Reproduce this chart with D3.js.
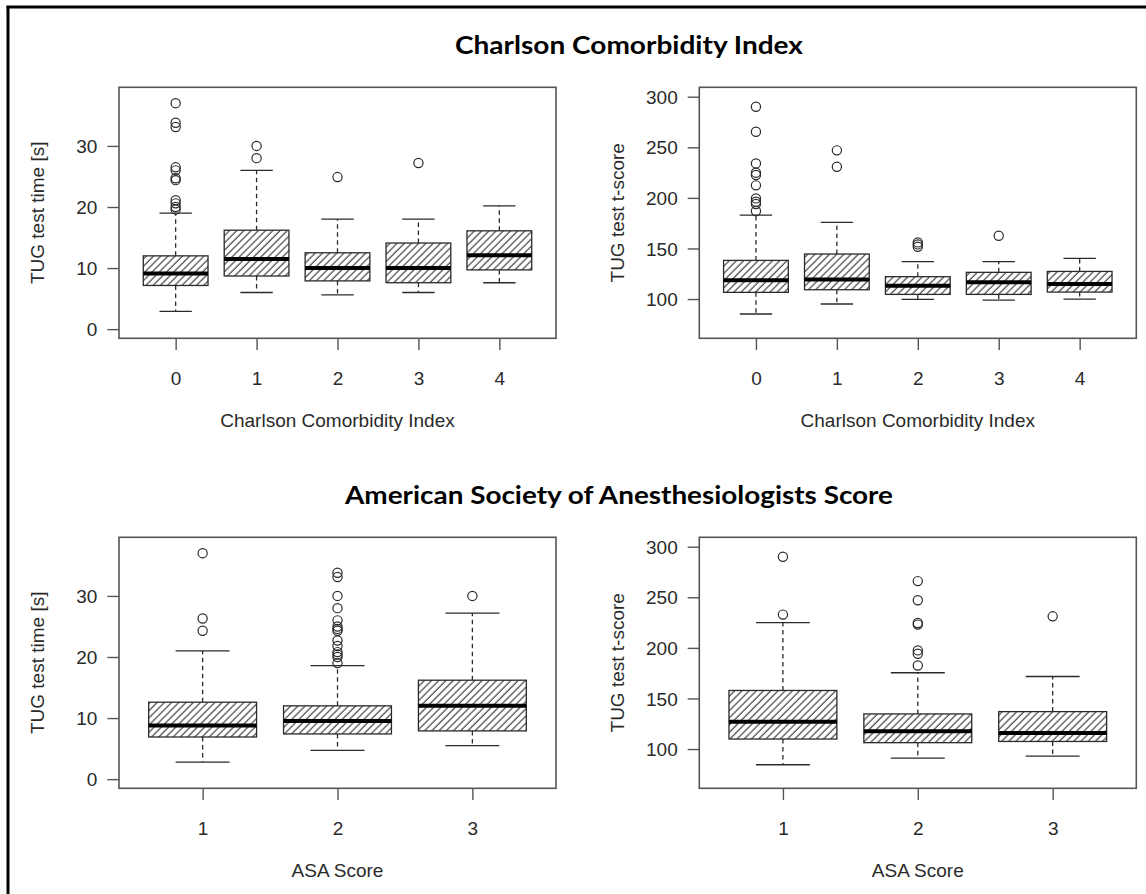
<!DOCTYPE html>
<html>
<head>
<meta charset="utf-8">
<script src="https://cdn.jsdelivr.net/npm/d3@7"></script>
<style>
  body { margin: 0; background: #fff; }
  svg { display: block; }
</style>
</head>
<body>
<svg id="chart" width="1146" height="894"></svg>
<script>

// categories
const cciCategories = ['0', '1', '2', '3', '4']
const asaCategories = ['1', '2', '3']

// tick labels
const timeTicks = [0, 10, 20, 30]
const scoreTicks = [100, 150, 200, 250, 300]

// CCI vs TUG time [s]
const cciTimeLow = [2.9, 6.0, 5.6, 6.0, 7.6]
const cciTimeQ1 = [7.15, 8.7, 7.9, 7.6, 9.7]
const cciTimeMedian = [9.1, 11.5, 10.0, 10.0, 12.1]
const cciTimeQ3 = [12.0, 16.2, 12.5, 14.1, 16.1]
const cciTimeHigh = [19.0, 26.0, 18.0, 18.0, 20.2]
const cciTimeOutliers = [
    [37.0, 33.8, 33.1, 26.5, 26.0, 24.7, 24.4, 21.1, 20.6, 20.0, 19.6],
    [30.0, 28.0],
    [24.9],
    [27.2],
    []
]

// CCI vs TUG t-score
const cciScoreLow = [85.2, 95.1, 99.7, 99.0, 100.0]
const cciScoreQ1 = [106.6, 109.2, 104.6, 104.6, 106.9]
const cciScoreMedian = [118.5, 119.4, 113.2, 116.5, 114.8]
const cciScoreQ3 = [138.2, 144.5, 122.1, 126.4, 127.3]
const cciScoreHigh = [183.0, 175.8, 136.9, 136.9, 140.2]
const cciScoreOutliers = [
    [290.1, 265.4, 234.1, 224.9, 222.6, 212.4, 199.5, 196.2, 193.9, 187.0],
    [247.0, 230.8],
    [156.0, 154.0, 151.7],
    [162.6],
    []
]

// ASA vs TUG time [s]
const asaTimeLow = [2.8, 4.7, 5.5]
const asaTimeQ1 = [6.9, 7.4, 7.9]
const asaTimeMedian = [8.8, 9.5, 12.0]
const asaTimeQ3 = [12.6, 12.0, 16.2]
const asaTimeHigh = [21.0, 18.6, 27.2]
const asaTimeOutliers = [
    [37.0, 26.3, 24.3],
    [33.8, 33.1, 30.0, 28.0, 26.0, 25.0, 24.6, 24.3, 22.7, 21.8, 20.8, 20.4, 20.0, 19.0],
    [30.0]
]

// ASA vs TUG t-score
const asaScoreLow = [84.5, 91.1, 93.1]
const asaScoreQ1 = [109.9, 106.3, 107.5]
const asaScoreMedian = [127.1, 117.5, 115.9]
const asaScoreQ3 = [157.9, 134.7, 137.0]
const asaScoreHigh = [225.0, 175.4, 171.7]
const asaScoreOutliers = [
    [290.1, 232.9],
    [266.0, 247.1, 224.6, 223.0, 197.5, 194.2, 182.6],
    [231.2]
]

const timeDomain = [-1.5, 39.6]
const scoreDomain = [61.2, 309.3]

const svg = d3.select('#chart')
const ink = '#2a2a2a'
const font = '"Liberation Sans", Arial, sans-serif'

// hatch fill
const defs = svg.append('defs')
defs.append('pattern')
    .attr('id', 'hatch')
    .attr('patternUnits', 'userSpaceOnUse')
    .attr('width', 5.1)
    .attr('height', 10)
    .attr('patternTransform', 'rotate(45)')
  .append('line')
    .attr('x1', 1).attr('y1', 0).attr('x2', 1).attr('y2', 10)
    .attr('stroke', '#333').attr('stroke-width', 1.1)

// outer frame (left and top only, the rest is cropped)
svg.append('line').attr('x1', 8).attr('y1', 6).attr('x2', 8).attr('y2', 894)
    .attr('stroke', '#000').attr('stroke-width', 3)
svg.append('line').attr('x1', 6.5).attr('y1', 7).attr('x2', 1146).attr('y2', 7)
    .attr('stroke', '#000').attr('stroke-width', 3)

function title (text, cx, baseline, width) {
    svg.append('text')
        .attr('x', cx).attr('y', baseline)
        .attr('text-anchor', 'middle')
        .attr('font-family', 'Lato, "Open Sans", sans-serif')
        .attr('font-weight', 'bold')
        .attr('font-size', 25)
        .attr('textLength', width)
        .attr('lengthAdjust', 'spacingAndGlyphs')
        .attr('fill', '#000')
        .text(text)
}

title('Charlson Comorbidity Index', 629, 54, 348)
title('American Society of Anesthesiologists Score', 619, 504, 548)

function panel (opts) {

    const { left, top, width, height, categories, domain, ticks, xlabel, ylabel } = opts
    const n = categories.length

    const g = svg.append('g').attr('transform', `translate(${left},${top})`)

    // R style: xlim c(0.5, n+0.5) expanded by 4%
    const x = d3.scaleLinear()
        .domain([0.5 - 0.04 * n, n + 0.5 + 0.04 * n])
        .range([0, width])
    const y = d3.scaleLinear().domain(domain).range([height, 0])

    const unit = x(2) - x(1)
    const bw = 0.8 * unit
    const cw = 0.4 * unit

    const boxes = categories.map((c, i) => ({
        pos: i + 1,
        low: opts.low[i], q1: opts.q1[i], med: opts.median[i], q3: opts.q3[i], high: opts.high[i],
        out: opts.outliers[i]
    }))

    const b = g.selectAll('g.box').data(boxes).enter().append('g').attr('class', 'box')

    // whiskers (dashed)
    b.append('line')
        .attr('x1', d => x(d.pos)).attr('x2', d => x(d.pos))
        .attr('y1', d => y(d.q3)).attr('y2', d => y(d.high))
        .attr('stroke', ink).attr('stroke-width', 1.3).attr('stroke-dasharray', '4.5,3.5')
    b.append('line')
        .attr('x1', d => x(d.pos)).attr('x2', d => x(d.pos))
        .attr('y1', d => y(d.q1)).attr('y2', d => y(d.low))
        .attr('stroke', ink).attr('stroke-width', 1.3).attr('stroke-dasharray', '4.5,3.5')

    // caps
    b.append('line')
        .attr('x1', d => x(d.pos) - cw / 2).attr('x2', d => x(d.pos) + cw / 2)
        .attr('y1', d => y(d.high)).attr('y2', d => y(d.high))
        .attr('stroke', ink).attr('stroke-width', 1.3)
    b.append('line')
        .attr('x1', d => x(d.pos) - cw / 2).attr('x2', d => x(d.pos) + cw / 2)
        .attr('y1', d => y(d.low)).attr('y2', d => y(d.low))
        .attr('stroke', ink).attr('stroke-width', 1.3)

    // box
    b.append('rect')
        .attr('x', d => x(d.pos) - bw / 2)
        .attr('width', bw)
        .attr('y', d => y(d.q3))
        .attr('height', d => y(d.q1) - y(d.q3))
        .attr('fill', 'url(#hatch)')
        .attr('stroke', ink).attr('stroke-width', 1.3)

    // median
    b.append('line')
        .attr('x1', d => x(d.pos) - bw / 2).attr('x2', d => x(d.pos) + bw / 2)
        .attr('y1', d => y(d.med)).attr('y2', d => y(d.med))
        .attr('stroke', '#000').attr('stroke-width', 4)

    // outliers
    b.selectAll('circle')
        .data(d => d.out.map(v => ({ pos: d.pos, v })))
        .enter().append('circle')
        .attr('cx', d => x(d.pos))
        .attr('cy', d => y(d.v))
        .attr('r', 4.6)
        .attr('fill', 'none')
        .attr('stroke', ink).attr('stroke-width', 1.2)

    // plot frame
    g.append('rect')
        .attr('width', width).attr('height', height)
        .attr('fill', 'none').attr('stroke', '#555').attr('stroke-width', 1.6)

    // axes
    const xaxis = d3.axisBottom(x)
        .tickValues(categories.map((c, i) => i + 1))
        .tickFormat((d, i) => categories[i])
        .tickSize(11.6)

    const yaxis = d3.axisLeft(y)
        .tickValues(ticks)
        .tickSize(11.6)
        .tickPadding(10)

    const xg = g.append('g').attr('transform', `translate(0,${height})`).call(xaxis)
    const yg = g.append('g').call(yaxis)

    g.selectAll('.domain').remove()
    g.selectAll('.tick line').attr('stroke', '#555').attr('stroke-width', 1.4)
    g.selectAll('.tick text')
        .attr('font-family', font).attr('font-size', 19).attr('fill', ink)
    xg.selectAll('.tick text').attr('y', 47).attr('dy', 0)
    yg.selectAll('.tick text').attr('dy', '0.35em')

    g.append('text')
        .attr('x', width / 2).attr('y', height + 89)
        .attr('text-anchor', 'middle')
        .attr('font-family', font).attr('font-size', 19).attr('fill', ink)
        .text(xlabel)

    g.append('text')
        .attr('transform', `translate(-75,${height / 2}) rotate(-90)`)
        .attr('text-anchor', 'middle')
        .attr('font-family', font).attr('font-size', 19).attr('fill', ink)
        .text(ylabel)
}

const pw = 437
const ph = 251

panel({ left: 119, top: 87.3, width: pw, height: ph, categories: cciCategories,
    domain: timeDomain, ticks: timeTicks,
    low: cciTimeLow, q1: cciTimeQ1, median: cciTimeMedian, q3: cciTimeQ3, high: cciTimeHigh,
    outliers: cciTimeOutliers,
    xlabel: 'Charlson Comorbidity Index', ylabel: 'TUG test time [s]' })

panel({ left: 699.3, top: 87.3, width: pw, height: ph, categories: cciCategories,
    domain: scoreDomain, ticks: scoreTicks,
    low: cciScoreLow, q1: cciScoreQ1, median: cciScoreMedian, q3: cciScoreQ3, high: cciScoreHigh,
    outliers: cciScoreOutliers,
    xlabel: 'Charlson Comorbidity Index', ylabel: 'TUG test t-score' })

panel({ left: 119, top: 537.3, width: pw, height: ph, categories: asaCategories,
    domain: timeDomain, ticks: timeTicks,
    low: asaTimeLow, q1: asaTimeQ1, median: asaTimeMedian, q3: asaTimeQ3, high: asaTimeHigh,
    outliers: asaTimeOutliers,
    xlabel: 'ASA Score', ylabel: 'TUG test time [s]' })

panel({ left: 699.3, top: 537.3, width: pw, height: ph, categories: asaCategories,
    domain: scoreDomain, ticks: scoreTicks,
    low: asaScoreLow, q1: asaScoreQ1, median: asaScoreMedian, q3: asaScoreQ3, high: asaScoreHigh,
    outliers: asaScoreOutliers,
    xlabel: 'ASA Score', ylabel: 'TUG test t-score' })

</script>
</body>
</html>
